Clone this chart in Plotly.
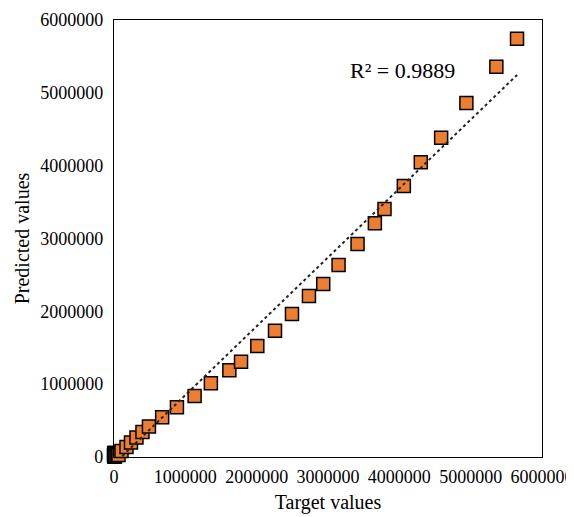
import numpy as np
import plotly.graph_objects as go

target = [5650000, 5360000, 4940000, 4586000, 4301000, 4063000, 3792000, 3657000,
          3414000, 3148000, 2933000, 2733000, 2495000, 2257000, 2009000, 1781000,
          1617000, 1358000, 1130000, 882000, 675000, 490000, 399000, 315000,
          238000, 175000, 105000, 63000]
predicted = [5743000, 5359000, 4861000, 4384000, 4046000, 3721000, 3405000, 3209000,
             2925000, 2636000, 2375000, 2211000, 1963000, 1734000, 1524000, 1309000,
             1190000, 1013000, 838000, 682000, 545000, 419000, 343000, 268000,
             199000, 137000, 82000, 27000]

# Dense cluster of small values near the origin (drawn as overlapping dark squares)
cluster_target = [-5000, 0, 5000, 10000, 15000, 2000, 8000, 12000, -3000, 6000]
cluster_predicted = [0, 20000, 40000, 60000, 10000, 50000, 30000, 45000, 35000, 5000]

r2_text = "R² = 0.9889"

x_ticks = [0, 1000000, 2000000, 3000000, 4000000, 5000000, 6000000]
y_ticks = [0, 1000000, 2000000, 3000000, 4000000, 5000000, 6000000]

all_x = np.array(cluster_target + target, dtype=float)
all_y = np.array(cluster_predicted + predicted, dtype=float)
slope, intercept = np.polyfit(all_x, all_y, 1)
trend_x = np.array([all_x.min(), all_x.max()])
trend_y = slope * trend_x + intercept

FONT = "Liberation Serif"
ORANGE = "#ED7D31"

fig = go.Figure()
fig.add_trace(go.Scatter(
    x=cluster_target, y=cluster_predicted, mode="markers",
    marker=dict(symbol="square", size=13, color="#111111",
                line=dict(color="black", width=1.5)),
    showlegend=False, hoverinfo="skip", cliponaxis=False))
fig.add_trace(go.Scatter(
    x=target[::-1], y=predicted[::-1], mode="markers",
    marker=dict(symbol="square", size=13, color=ORANGE,
                line=dict(color="black", width=1.5)),
    showlegend=False, cliponaxis=False))
fig.add_trace(go.Scatter(
    x=trend_x, y=trend_y, mode="lines",
    line=dict(color="#222222", width=2, dash="dot"),
    showlegend=False, hoverinfo="skip"))

fig.add_annotation(x=4040000, y=5300000, xref="x", yref="y", text=r2_text,
                   showarrow=False, font=dict(family=FONT, size=22, color="black"))

axis_common = dict(
    showgrid=False, zeroline=False, showline=True, linecolor="black",
    linewidth=1.3, mirror=True, ticks="", range=[0, 6000000],
    tickfont=dict(family=FONT, size=18, color="black"),
    tickformat="d",
)
fig.update_xaxes(**axis_common, tickvals=x_ticks, ticklabelstandoff=3,
                 title=dict(text="Target values", font=dict(family=FONT, size=20, color="black"),
                            standoff=9))
fig.update_yaxes(**axis_common, tickvals=y_ticks, ticklabelstandoff=6,
                 title=dict(text="Predicted values", font=dict(family=FONT, size=20, color="black"),
                            standoff=5))

fig.update_layout(
    width=566, height=509,
    margin=dict(l=106, r=32, t=12, b=60, autoexpand=False),
    paper_bgcolor="white", plot_bgcolor="white",
)

fig.write_html("out.html")
